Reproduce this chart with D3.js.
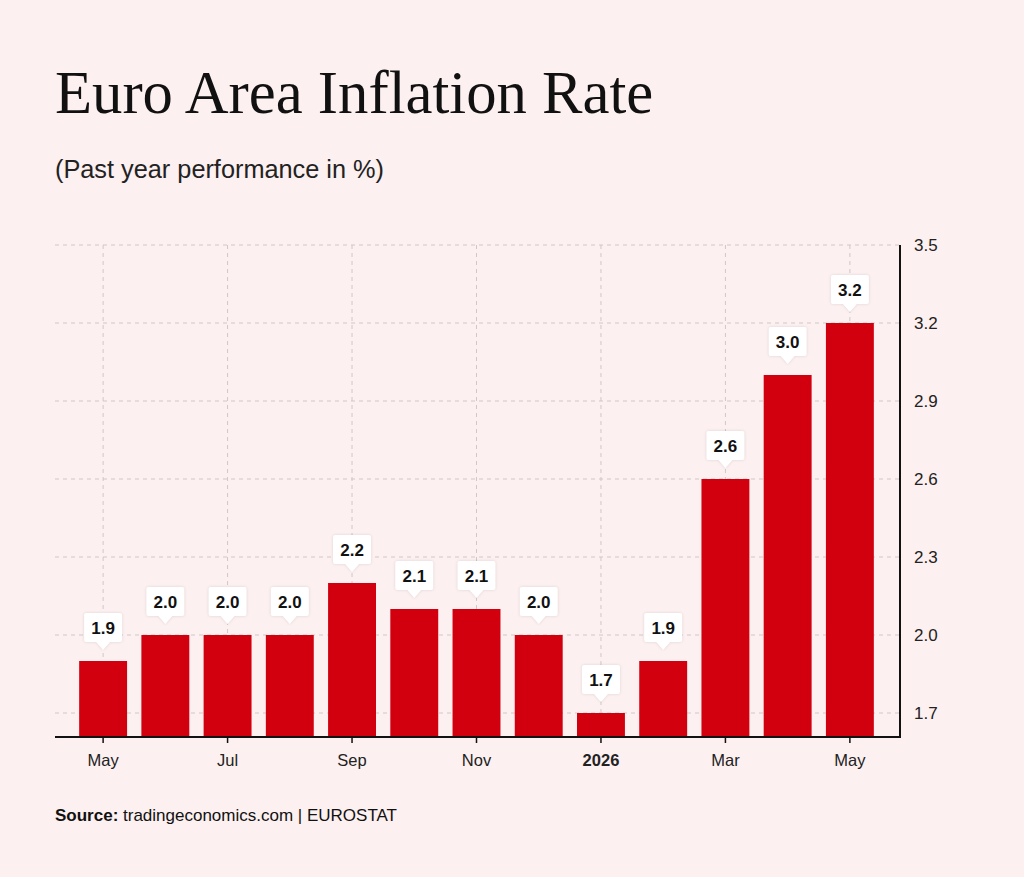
<!DOCTYPE html>
<html>
<head>
<meta charset="utf-8">
<script src="https://cdn.jsdelivr.net/npm/d3@7"></script>
<style>
  body { margin: 0; background: #fdf0f0; }
  svg { display: block; }
</style>
</head>
<body>
<div id="chart"></div>
<script>
// data
const months = ["2025-05","2025-06","2025-07","2025-08","2025-09","2025-10","2025-11","2025-12","2026-01","2026-02","2026-03","2026-04","2026-05"]
const rates = [1.9, 2.0, 2.0, 2.0, 2.2, 2.1, 2.1, 2.0, 1.7, 1.9, 2.6, 3.0, 3.2]
const xTickMonths = ["2025-05","2025-07","2025-09","2025-11","2026-01","2026-03","2026-05"]
const xTickLabels = ["May","Jul","Sep","Nov","2026","Mar","May"]
const yTicks = [1.7, 2.0, 2.3, 2.6, 2.9, 3.2, 3.5]

// dimensions
const width = 1024, height = 877
const plot = { left: 55, right: 900, top: 245, bottom: 737 }
const sans = "'Liberation Sans', Arial, sans-serif"

const svg = d3.select("#chart").append("svg")
    .attr("width", width)
    .attr("height", height)

svg.append("rect")
    .attr("width", width).attr("height", height)
    .attr("fill", "#fdf0f0")

// titles
svg.append("text")
    .attr("x", 55).attr("y", 113)
    .attr("font-family", "'Liberation Serif', 'Times New Roman', serif")
    .attr("font-size", 60.7)
    .attr("fill", "#111")
    .text("Euro Area Inflation Rate")

svg.append("text")
    .attr("x", 55).attr("y", 178)
    .attr("font-family", sans)
    .attr("font-size", 25.3)
    .attr("fill", "#222")
    .text("(Past year performance in %)")

const source = svg.append("text")
    .attr("x", 55).attr("y", 821)
    .attr("font-family", sans)
    .attr("font-size", 17)
    .attr("fill", "#111")
source.append("tspan").attr("font-weight", "bold").text("Source: ")
source.append("tspan").text("tradingeconomics.com | EUROSTAT")

// scales
const x = d3.scaleBand()
    .domain(months)
    .range([72, 881])
    .paddingInner(0.23)
    .paddingOuter(0.115)

const y = d3.scaleLinear()
    .domain([1.7, 3.5])
    .range([713, 245])

const xc = m => x(m) + x.bandwidth() / 2

// grid
const grid = svg.append("g")
    .attr("stroke", "#cfc8c8")
    .attr("stroke-width", 1)
    .attr("stroke-dasharray", "4,4")

grid.selectAll(".hg")
    .data(yTicks)
    .join("line")
    .attr("x1", plot.left).attr("x2", plot.right)
    .attr("y1", d => y(d)).attr("y2", d => y(d))

grid.selectAll(".vg")
    .data(xTickMonths)
    .join("line")
    .attr("x1", d => xc(d)).attr("x2", d => xc(d))
    .attr("y1", plot.top).attr("y2", plot.bottom)

// bars
svg.append("g").selectAll("rect")
    .data(rates)
    .join("rect")
    .attr("x", (d, i) => x(months[i]))
    .attr("width", x.bandwidth())
    .attr("y", d => y(d))
    .attr("height", d => plot.bottom - y(d))
    .attr("fill", "#d2000f")

// value labels
const labels = svg.append("g").selectAll("g")
    .data(rates)
    .join("g")
    .attr("transform", (d, i) => `translate(${xc(months[i])},${y(d) - 11})`)

labels.append("path")
    .attr("d", "M-17,-37 H17 Q19,-37 19,-35 V-10 Q19,-8 17,-8 H7 L0,0 L-7,-8 H-17 Q-19,-8 -19,-10 V-35 Q-19,-37 -17,-37 Z")
    .attr("fill", "#fff")
    .style("filter", "drop-shadow(0 0 1.5px rgba(0,0,0,0.12))")

labels.append("text")
    .attr("y", -16)
    .attr("text-anchor", "middle")
    .attr("font-family", sans)
    .attr("font-weight", "bold")
    .attr("font-size", 17)
    .attr("fill", "#111")
    .text(d => d.toFixed(1))

// axes
svg.append("line")
    .attr("x1", plot.left).attr("x2", plot.right)
    .attr("y1", plot.bottom).attr("y2", plot.bottom)
    .attr("stroke", "#111").attr("stroke-width", 2)

svg.append("line")
    .attr("x1", plot.right).attr("x2", plot.right)
    .attr("y1", plot.top).attr("y2", plot.bottom + 1)
    .attr("stroke", "#111").attr("stroke-width", 2)

const xt = svg.append("g").selectAll("g")
    .data(xTickMonths)
    .join("g")
    .attr("transform", d => `translate(${xc(d)},${plot.bottom})`)

xt.append("line")
    .attr("y1", 0).attr("y2", 6)
    .attr("stroke", "#111").attr("stroke-width", 1.5)

xt.append("text")
    .attr("y", 29)
    .attr("text-anchor", "middle")
    .attr("font-family", sans)
    .attr("font-size", 16.5)
    .attr("font-weight", (d, i) => xTickLabels[i] === "2026" ? "bold" : "normal")
    .attr("fill", "#222")
    .text((d, i) => xTickLabels[i])

svg.append("g").selectAll("text")
    .data(yTicks)
    .join("text")
    .attr("x", 914)
    .attr("y", d => y(d) + 6)
    .attr("font-family", sans)
    .attr("font-size", 17)
    .attr("fill", "#222")
    .text(d => d.toFixed(1))
</script>
</body>
</html>
